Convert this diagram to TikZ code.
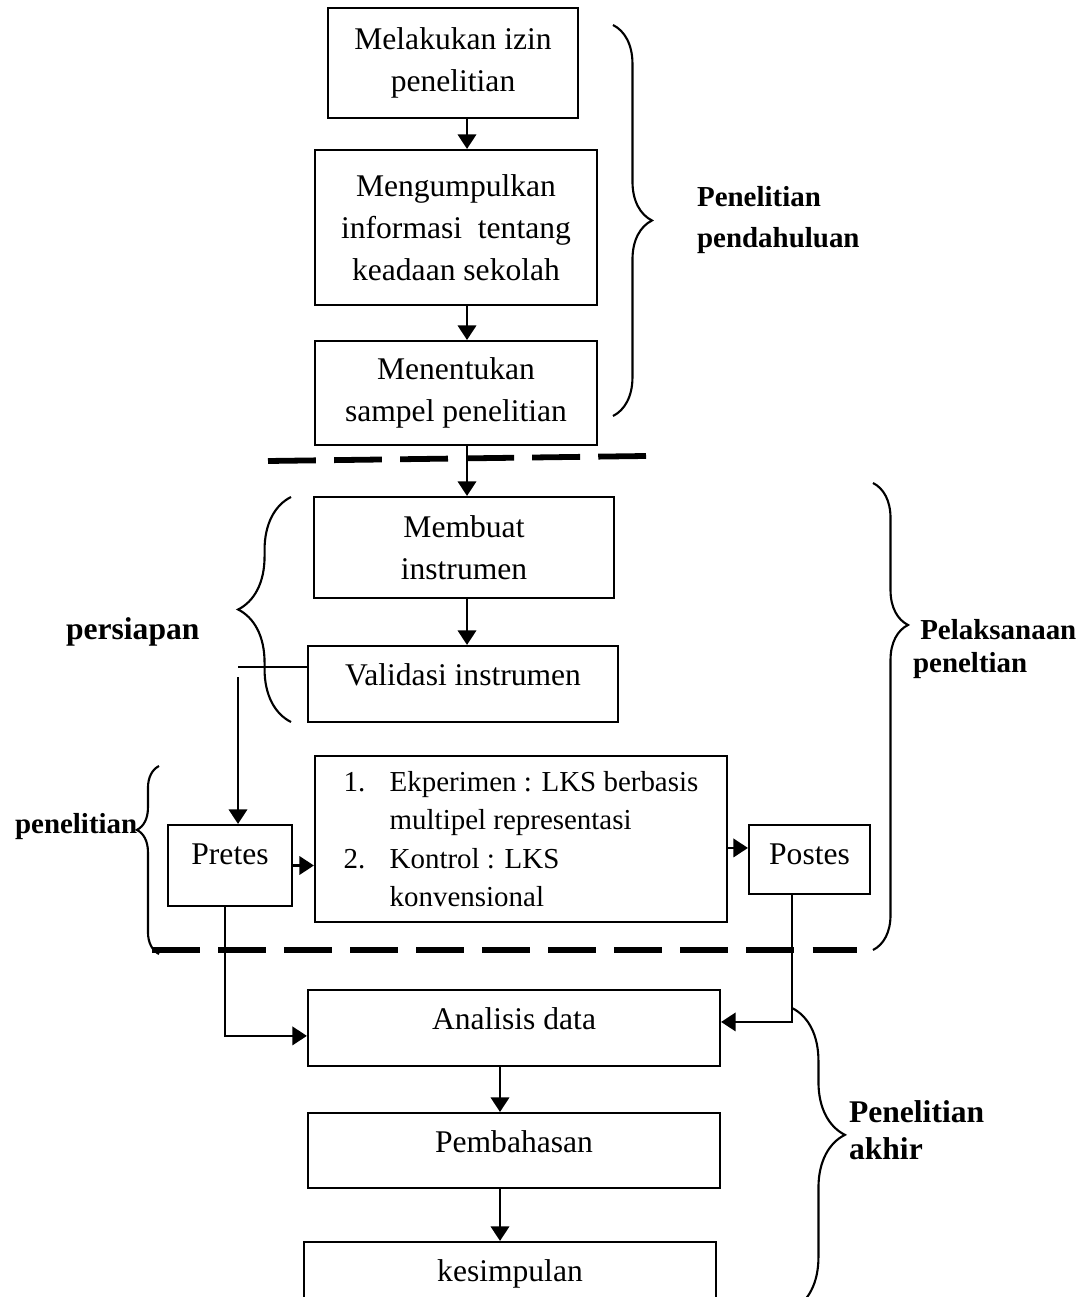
\documentclass[tikz,border=0pt]{standalone}
\usepackage{fontspec}
\setmainfont{Liberation Serif}
\usetikzlibrary{arrows.meta,decorations.pathreplacing}
\tikzset{
  box/.style={draw,align=center,font=\fontsize{12}{16}\selectfont},
  tbox/.style={draw,inner ysep=0pt,text height=14.82pt,font=\fontsize{12}{14.6}\selectfont},
  arr/.style={-{Triangle[length=5.5pt,width=7pt]}},
  sep/.style={line width=2.2pt,dash pattern=on 18.2pt off 6.9pt},
  kurung/.style 2 args={decorate,decoration={brace,amplitude=#1,aspect=#2}},
  lbl/.style={font=\fontsize{#1}{15.6}\selectfont\bfseries,align=left,inner sep=0pt,anchor=west},
  lbl/.default=12
}

\begin{document}
\begin{tikzpicture}[x=0.38pt,y=-0.38pt,line width=0.8pt]
\useasboundingbox (0,0) rectangle (1083,1297);
\clip (0,0) rectangle (1083,1297);
% ---- penelitian pendahuluan
\node[box,minimum width=95pt,minimum height=41.8pt] (izin) at (453,63) {Melakukan izin\\penelitian};
\node[box,minimum width=107.2pt,minimum height=58.9pt] (info) at (456,227.5) {Mengumpulkan\\informasi\ \ tentang\\keadaan sekolah};
\node[box,minimum width=107.2pt,minimum height=39.5pt] (sampel) at (456,393) {Menentukan\\sampel penelitian};
\draw[sep] (268,461) -- (646,456);
% ---- pelaksanaan
\node[box,minimum width=114pt,minimum height=38.4pt] (buat) at (464,547.5) {Membuat\\instrumen};
\node[tbox,minimum width=117.8pt,minimum height=28.9pt,text depth=14.06pt] (valid) at (463,684) {Validasi instrumen};
\node[tbox,minimum width=47.1pt,minimum height=30.8pt,text depth=15.96pt] (pretes) at (230,865.5) {Pretes};
\node[box,align=left,font=\fontsize{11}{14.6}\selectfont,minimum width=156.6pt,minimum height=63.1pt] (perlakuan) at (521,839)
  {\makebox[17.5pt][l]{1.}Ekperimen : LKS berbasis\\\hspace*{17.5pt}multipel representasi\\
   \makebox[17.5pt][l]{2.}Kontrol : LKS\\\hspace*{17.5pt}konvensional};
\node[tbox,minimum width=46pt,minimum height=26.2pt,text depth=11.4pt] (postes) at (809.5,859.5) {Postes};
\draw[sep] (152,950) -- (857,950);
% ---- penelitian akhir
\node[tbox,minimum width=156.6pt,minimum height=28.9pt,text depth=14.06pt] (analisis) at (514,1028) {Analisis data};
\node[tbox,minimum width=156.6pt,minimum height=28.5pt,text depth=13.68pt] (bahas) at (514,1150.5) {Pembahasan};
\node[tbox,minimum width=156.6pt,minimum height=28.9pt,text depth=14.06pt] (simpul) at (510,1280) {kesimpulan};
% arrows
\coordinate (ax) at (467,0);
\coordinate (bx) at (500,0);
\foreach \a/\b in {izin/info,info/sampel,sampel/buat,buat/valid}
  \draw[arr] (\a.south -| ax) -- (\b.north -| ax);
\foreach \a/\b in {analisis/bahas,bahas/simpul}
  \draw[arr] (\a.south -| bx) -- (\b.north -| bx);
\coordinate (vk) at (238,667);
\draw[line width=0.6pt] (vk) -- (vk -| valid.west);
\coordinate (pv) at (238,677);
\draw[arr] (pv) -- (pv |- pretes.north);
\draw[arr] (pretes.east) -- (pretes.east -| perlakuan.west);
\draw[arr] ([yshift=-3.4pt]perlakuan.east) -- ([yshift=-3.4pt]perlakuan.east -| postes.west);
\draw[arr] ([xshift=-1.9pt]pretes.south) |- ([yshift=-3pt]analisis.west);
\draw[arr] ([xshift=-6.65pt]postes.south) |- ([yshift=2.3pt]analisis.east);
% braces and labels
\draw[kurung={14.8pt}{0.5}] (613,25) -- (613,416);
\draw[kurung={13.3pt}{0.304}] (873,483) -- (873,950);
\draw[kurung={20.1pt}{0.42}] (792,1008) -- (792,1310);
\draw[kurung={20.1pt}{0.5}] (291,722) -- (291,497);
\draw[kurung={8.4pt}{0.66}] (159,954) -- (159,766);
\node[lbl=11] (tpendahuluan) at (696,220.5) {Penelitian\\pendahuluan};
\node[lbl=11,font=\fontsize{11}{12.2}\selectfont\bfseries] (tpelaksanaan) at (912,649) {\ Pelaksanaan\\peneltian};
\node[lbl,font=\fontsize{12}{14}\selectfont\bfseries] (takhir) at (848,1130.5) {Penelitian\\akhir};
\node[lbl,anchor=base west] (tpersiapan) at (65,639) {persiapan};
\node[lbl=11,anchor=base west] (tpenelitian) at (14,833) {penelitian};
\end{tikzpicture}
\end{document}
